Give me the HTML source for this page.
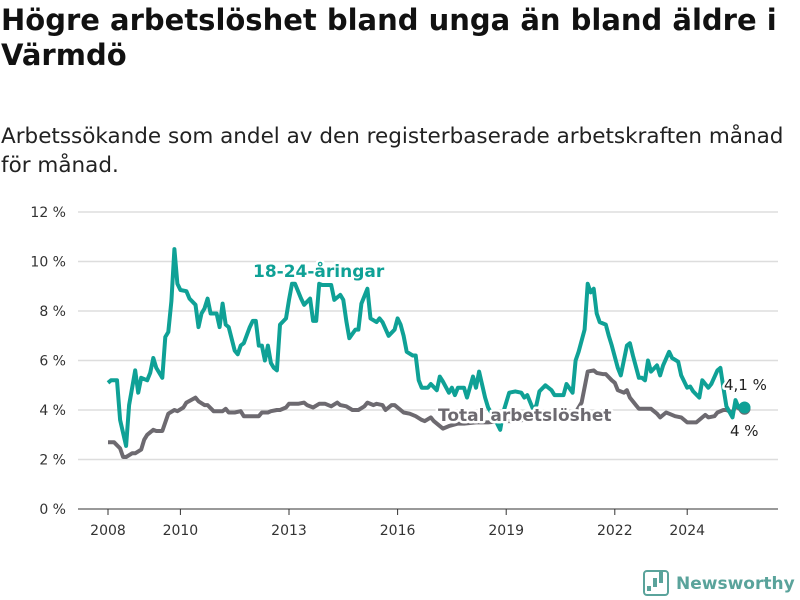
<!DOCTYPE html>
<html><head><meta charset="utf-8"><style>
body{margin:0;background:#fff;width:800px;height:600px;overflow:hidden;font-family:"DejaVu Sans","Liberation Sans",sans-serif}
h1{position:absolute;left:1px;top:3px;margin:0;font-size:29px;line-height:35px;font-weight:bold;color:#111;white-space:nowrap;letter-spacing:0}
p{position:absolute;left:1px;top:122px;margin:0;font-size:21.5px;line-height:29px;color:#222;white-space:nowrap;letter-spacing:0}
svg{position:absolute;left:0;top:0;font-family:"DejaVu Sans","Liberation Sans",sans-serif}
</style></head><body>
<h1>Högre arbetslöshet bland unga än bland äldre i<br>Värmdö</h1>
<p>Arbetssökande som andel av den registerbaserade arbetskraften månad<br>för månad.</p>
<svg id="c" width="800" height="600"></svg>
<script>
const yTicks=[0,2,4,6,8,10,12];
const xTickYears=[2008,2010,2013,2016,2019,2022,2024];
const youthMonths=[0,1,3,4,6,7,9,10,11,13,14,15,16,18,19,20,21,22,23,24,26,27,29,30,31,32,33,34,36,37,38,39,40,42,43,44,45,47,48,49,50,51,52,53,54,55,56,57,59,60,61,62,64,65,67,68,69,70,71,74,75,77,78,79,80,82,83,84,86,87,89,90,91,93,95,96,97,98,99,101,102,103,104,106,107,109,110,111,113,114,115,116,118,119,121,122,123,125,126,128,130,131,133,135,137,138,139,141,142,143,145,147,148,151,152,154,155,156,158,159,160,161,162,163,165,166,167,169,170,172,173,174,176,177,178,179,180,182,183,184,186,187,189,190,192,193,194,196,197,199,200,202,203,204,205,207,208,209,211];
const youthValues=[5.1,5.2,5.2,3.6,2.55,4.2,5.6,4.7,5.3,5.2,5.5,6.1,5.7,5.3,6.95,7.15,8.4,10.5,9.1,8.85,8.8,8.5,8.25,7.35,7.9,8.1,8.5,7.9,7.9,7.35,8.3,7.45,7.35,6.4,6.25,6.6,6.7,7.35,7.6,7.6,6.6,6.6,6.0,6.6,5.9,5.7,5.6,7.45,7.7,8.45,9.1,9.1,8.5,8.25,8.5,7.6,7.6,9.1,9.05,9.05,8.45,8.65,8.45,7.6,6.9,7.25,7.25,8.3,8.9,7.7,7.55,7.7,7.55,7.0,7.25,7.7,7.45,7.0,6.35,6.2,6.2,5.2,4.9,4.9,5.05,4.8,5.35,5.15,4.7,4.9,4.6,4.9,4.9,4.5,5.35,4.9,5.55,4.5,4.1,3.7,3.2,3.9,4.7,4.75,4.7,4.5,4.6,4.0,4.2,4.75,5.0,4.8,4.6,4.6,5.05,4.7,6.0,6.35,7.25,9.1,8.75,8.9,7.9,7.55,7.45,7.0,6.6,5.7,5.4,6.6,6.7,6.2,5.3,5.3,5.2,6.0,5.55,5.8,5.4,5.8,6.35,6.1,5.95,5.4,4.9,4.95,4.75,4.5,5.2,4.9,5.05,5.6,5.7,4.9,4.15,3.7,4.4,4.1,4.1];
const totalMonths=[0,2,4,5,6,8,9,11,12,13,15,16,18,19,20,22,23,25,26,29,30,32,33,35,38,39,40,42,44,45,48,50,51,53,54,56,57,59,60,63,65,66,68,70,72,74,76,77,79,81,83,85,86,88,89,91,92,94,95,97,98,100,102,104,105,107,108,111,113,116,118,122,126,130,134,138,142,146,150,154,156,157,159,161,162,164,165,167,168,169,171,172,173,175,176,178,180,182,183,185,186,188,190,192,195,196,198,199,201,202,204,205,207,208,210,211];
const totalValues=[2.7,2.7,2.45,2.1,2.1,2.25,2.25,2.4,2.8,3.0,3.2,3.15,3.15,3.5,3.85,4.0,3.95,4.1,4.3,4.5,4.35,4.2,4.2,3.95,3.95,4.05,3.9,3.9,3.95,3.75,3.75,3.75,3.9,3.9,3.95,4.0,4.0,4.1,4.25,4.25,4.3,4.2,4.1,4.25,4.25,4.15,4.3,4.2,4.15,4.0,4.0,4.15,4.3,4.2,4.25,4.2,4.0,4.2,4.2,4.0,3.9,3.85,3.75,3.6,3.55,3.7,3.55,3.25,3.35,3.45,3.45,3.5,3.5,3.55,3.55,3.6,3.6,3.7,3.7,3.7,4.1,4.3,5.55,5.6,5.5,5.45,5.45,5.2,5.1,4.8,4.7,4.8,4.5,4.2,4.05,4.05,4.05,3.85,3.7,3.9,3.85,3.75,3.7,3.5,3.5,3.6,3.8,3.7,3.75,3.9,4.0,4.0,3.9,4.15,4.0,4.05];
const NS='http://www.w3.org/2000/svg';
const svg=document.getElementById('c');
const X0=78,X1=778,Y0=509,Y1=212;
function xScale(m){return 108+m*(36.2/12);}
function yScale(v){return Y0-(v/12)*(Y0-Y1);}
function mk(t,a){const e=document.createElementNS(NS,t);for(const k in a)e.setAttribute(k,a[k]);svg.appendChild(e);return e;}
yTicks.forEach(v=>{
  const g=mk('line',{x1:X0,x2:X1,y1:yScale(v),y2:yScale(v),stroke:v===0?'#333':'#ddd','stroke-width':v===0?1:1.5});
  
  
  const t=mk('text',{x:66,y:yScale(v)+5,'text-anchor':'end','font-size':14,fill:'#333'});
  t.textContent=v+' %';
  
  
});
xTickYears.forEach(yr=>{
  const x=xScale((yr-2008)*12);
  const l=mk('line',{x1:x,x2:x,y1:Y0,y2:Y0+6,stroke:'#333'});
  
  
  const t=mk('text',{x:x,y:535,'text-anchor':'middle','font-size':14,fill:'#333'});
  t.textContent=yr;
  
  
});
function line(ms,vs,col,name){
  const d=ms.map((m,i)=>(i?'L':'M')+xScale(m).toFixed(1)+','+yScale(vs[i]).toFixed(1)).join('');
  const p=mk('path',{d:d,fill:'none',stroke:col,'stroke-width':4,'stroke-linejoin':'round'});
  
  
  const n=ms.length-1;
  const c=mk('circle',{cx:xScale(ms[n]),cy:yScale(vs[n]),r:6,fill:col});
  
  
}
line(totalMonths,totalValues,'#6d6a70','total-line');
line(youthMonths,youthValues,'#0fa196','youth-line');
function lab(x,y,txt,col,size,w,name){
  const t=mk('text',{x:x,y:y,'font-size':size,'font-weight':w,fill:col,stroke:'#fff','stroke-width':5,'paint-order':'stroke','stroke-linejoin':'round'});
  t.textContent=txt;
  
  
}
lab(253,277,'18-24-åringar','#0fa196',17,'bold','youth-series-label');
lab(438,421,'Total arbetslöshet','#6d6a70',17,'bold','total-series-label');
lab(724,390,'4,1 %','#222',15,'normal','youth-end-value');
lab(730,436,'4 %','#222',15,'normal','total-end-value');
const g=mk('g',{});


[[648,584,5],[654,580,9],[660,576,13]].forEach(([x,y,h])=>{const r=document.createElementNS(NS,'rect');r.setAttribute('x',x-1);r.setAttribute('y',y-h+7);r.setAttribute('width',4);r.setAttribute('height',h);r.setAttribute('fill','#5aa39b');g.appendChild(r);});
const bx=document.createElementNS(NS,'rect');bx.setAttribute('x',644);bx.setAttribute('y',571);bx.setAttribute('width',24);bx.setAttribute('height',24);bx.setAttribute('rx',3);bx.setAttribute('fill','none');bx.setAttribute('stroke','#5aa39b');bx.setAttribute('stroke-width',2);g.appendChild(bx);
const lt=document.createElementNS(NS,'text');lt.setAttribute('x',676);lt.setAttribute('y',589);lt.setAttribute('font-size',17);lt.setAttribute('font-weight','bold');lt.setAttribute('fill','#5aa39b');lt.textContent='Newsworthy';g.appendChild(lt);
</script>
</body></html>
